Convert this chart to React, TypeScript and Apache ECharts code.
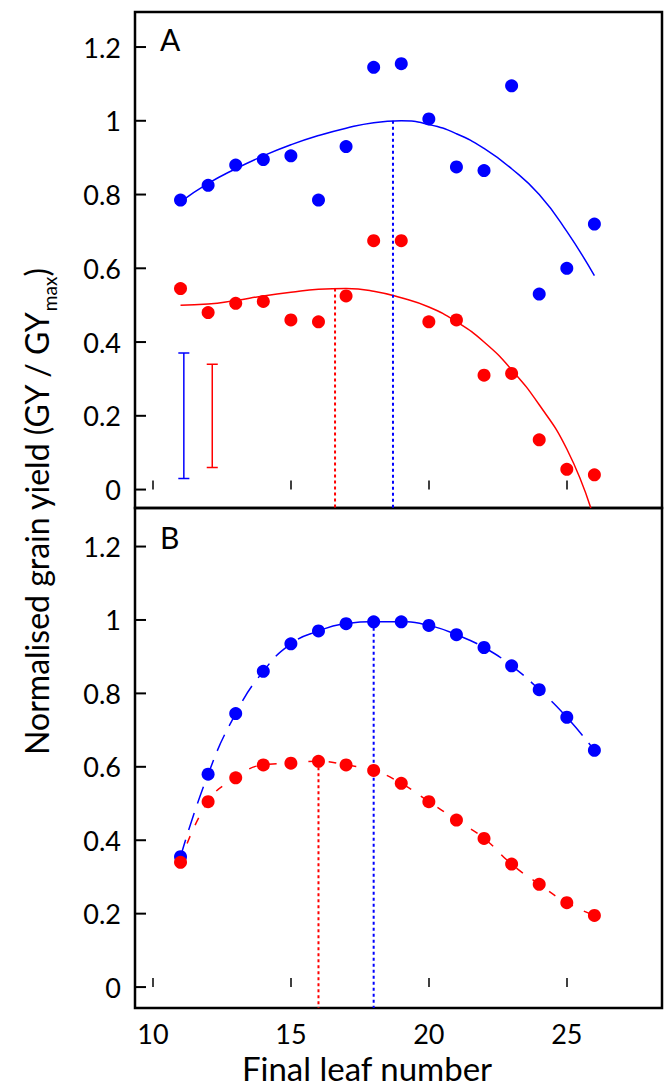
import { useEffect, useRef } from 'react';
import * as echarts from 'echarts';

const leafNumbers = [11, 12, 13, 14, 15, 16, 17, 18, 19, 20, 21, 22, 23, 24, 25, 26];

// panel A observed points
const blueA = [0.785, 0.825, 0.88, 0.895, 0.905, 0.785, 0.93, 1.145, 1.155, 1.005, 0.875, 0.865, 1.095, 0.53, 0.6, 0.72];
const redA = [0.545, 0.48, 0.505, 0.51, 0.46, 0.455, 0.525, 0.675, 0.675, 0.455, 0.46, 0.31, 0.315, 0.135, 0.055, 0.04];

// panel A fitted curves
const blueFit = [0.78, 0.83, 0.87, 0.905, 0.935, 0.96, 0.98, 0.995, 1.0, 0.99, 0.965, 0.925, 0.87, 0.8, 0.7, 0.58];
const redFitX = [11, 12, 13, 14, 15, 16, 17, 18, 19, 20, 21, 22, 23, 24, 25, 25.87];
const redFit = [0.5, 0.503, 0.513, 0.525, 0.535, 0.543, 0.545, 0.538, 0.52, 0.495, 0.455, 0.4, 0.325, 0.23, 0.11, -0.05];

// panel B simulated points
const blueB = [0.355, 0.58, 0.745, 0.86, 0.935, 0.97, 0.99, 0.995, 0.995, 0.985, 0.96, 0.925, 0.875, 0.81, 0.735, 0.645];
const redB = [0.34, 0.505, 0.57, 0.605, 0.61, 0.615, 0.605, 0.59, 0.555, 0.505, 0.455, 0.405, 0.335, 0.28, 0.23, 0.195];

// optimum markers: [x, top]
const optA = { blue: [18.7, 1.0], red: [16.6, 0.545] };
const optB = { blue: [18, 0.995], red: [16, 0.615] };

// error bars: [x, low, high]
const errBlue = [11.12, 0.03, 0.37];
const errRed = [12.15, 0.06, 0.34];

const yTicks = [0, 0.2, 0.4, 0.6, 0.8, 1, 1.2];
const xTicks = [10, 15, 20, 25];
const X_MIN = 9.35;
const X_MAX = 28.45;

const BLUE = '#0000ff';
const RED = '#ff0000';
const FONT = 'Lato';

const zip = (xs: number[], ys: number[]) => xs.map((x, i) => [x, ys[i]]);

export default function App() {
  const ref = useRef<HTMLDivElement | null>(null);

  useEffect(() => {
    if (!ref.current) return;
    const chart = echarts.init(ref.current, undefined, { renderer: 'svg' });

    const xAxis = (gridIndex: number, labels: boolean) => ({
      type: 'value',
      gridIndex,
      min: X_MIN,
      max: X_MAX,
      axisLine: { show: false },
      splitLine: { show: false },
      axisTick: { show: true, inside: true, length: 9, customValues: xTicks, lineStyle: { color: '#000', width: 1.5 } },
      axisLabel: { show: labels, customValues: xTicks, fontSize: 27, color: '#000', fontFamily: FONT, margin: 12 },
    });
    const yAxis = (gridIndex: number, min: number, max: number) => ({
      type: 'value',
      gridIndex,
      min,
      max,
      axisLine: { show: false },
      splitLine: { show: false },
      axisTick: { show: false },
      axisLabel: { customValues: yTicks, fontSize: 27, color: '#000', fontFamily: FONT, margin: 14 },
    });
    // inward y tick marks drawn at the left edge from the tick list
    const yTickMarks = (xi: number) => ({
      type: 'scatter', xAxisIndex: xi, yAxisIndex: xi, symbol: 'rect', symbolSize: [11, 2],
      clip: false, z: 10, itemStyle: { color: '#000', opacity: 1 }, silent: true,
      data: yTicks.map((v) => [X_MIN + 0.2, v]),
    });

    const scatter = (xi: number, data: number[], color: string) => ({
      type: 'scatter', xAxisIndex: xi, yAxisIndex: xi, symbolSize: 13, z: 5,
      itemStyle: { color, opacity: 1 }, data: zip(leafNumbers, data),
    });
    const line = (xi: number, data: number[][], color: string, type: any, width = 1.5) => ({
      type: 'line', xAxisIndex: xi, yAxisIndex: xi, symbol: 'none', smooth: false,
      lineStyle: { color, width, type }, data,
    });
    const vline = (xi: number, p: number[], color: string, bottom: number) =>
      line(xi, [[p[0], p[1]], [p[0], bottom]], color, [3, 3], 2);
    const errBar = (e: number[], color: string) => [
      line(0, [[e[0], e[1]], [e[0], e[2]]], color, 'solid'),
      line(0, [[e[0] - 0.2, e[1]], [e[0] + 0.2, e[1]]], color, 'solid'),
      line(0, [[e[0] - 0.2, e[2]], [e[0] + 0.2, e[2]]], color, 'solid'),
    ];

    chart.setOption({
      animation: false,
      grid: [
        { left: 135, top: 12, width: 527, height: 496, show: true, borderColor: '#000', borderWidth: 2.5 },
        { left: 135, top: 508, width: 527, height: 500, show: true, borderColor: '#000', borderWidth: 2.5 },
      ],
      xAxis: [xAxis(0, false), xAxis(1, true)],
      yAxis: [yAxis(0, -0.05, 1.295), yAxis(1, -0.057, 1.305)],
      series: [
        yTickMarks(0),
        yTickMarks(1),
        scatter(0, blueA, BLUE),
        scatter(0, redA, RED),
        { ...line(0, zip(leafNumbers, blueFit), BLUE, 'solid'), smooth: true },
        { ...line(0, zip(redFitX, redFit), RED, 'solid'), smooth: true },
        vline(0, optA.blue, BLUE, -0.05),
        vline(0, optA.red, RED, -0.05),
        ...errBar(errBlue, BLUE),
        ...errBar(errRed, RED),
        scatter(1, blueB, BLUE),
        scatter(1, redB, RED),
        { ...line(1, zip(leafNumbers, blueB), BLUE, [18, 10]), smooth: true },
        { ...line(1, zip(leafNumbers, redB), RED, [8, 12]), smooth: true },
        vline(1, optB.blue, BLUE, -0.057),
        vline(1, optB.red, RED, -0.057),
      ],
      graphic: [
        { type: 'text', left: 160, top: 24, style: { text: 'A', fontSize: 30, fontFamily: FONT, fill: '#000' } },
        { type: 'text', left: 160, top: 522, style: { text: 'B', fontSize: 30, fontFamily: FONT, fill: '#000' } },
        {
          type: 'text', x: 367, y: 1068,
          style: { text: 'Final leaf number', fontSize: 33, fontFamily: FONT, fill: '#000', align: 'center', verticalAlign: 'middle' },
        },
        {
          type: 'text', x: 36, y: 512, rotation: Math.PI / 2,
          style: {
            text: '{a|Normalised grain yield (GY / GY}{s|max}{a|)}',
            align: 'center', verticalAlign: 'middle', fill: '#000',
            rich: {
              a: { fontSize: 32, fontFamily: FONT, fill: '#000', verticalAlign: 'bottom' },
              s: { fontSize: 19, fontFamily: FONT, fill: '#000', verticalAlign: 'bottom', padding: [0, 0, -7, 0] },
            },
          },
        },
      ],
    });
    return () => chart.dispose();
  }, []);

  return <div ref={ref} style={{ position: 'absolute', left: 0, top: 0, width: 667, height: 1092, background: '#fff' }} />;
}
